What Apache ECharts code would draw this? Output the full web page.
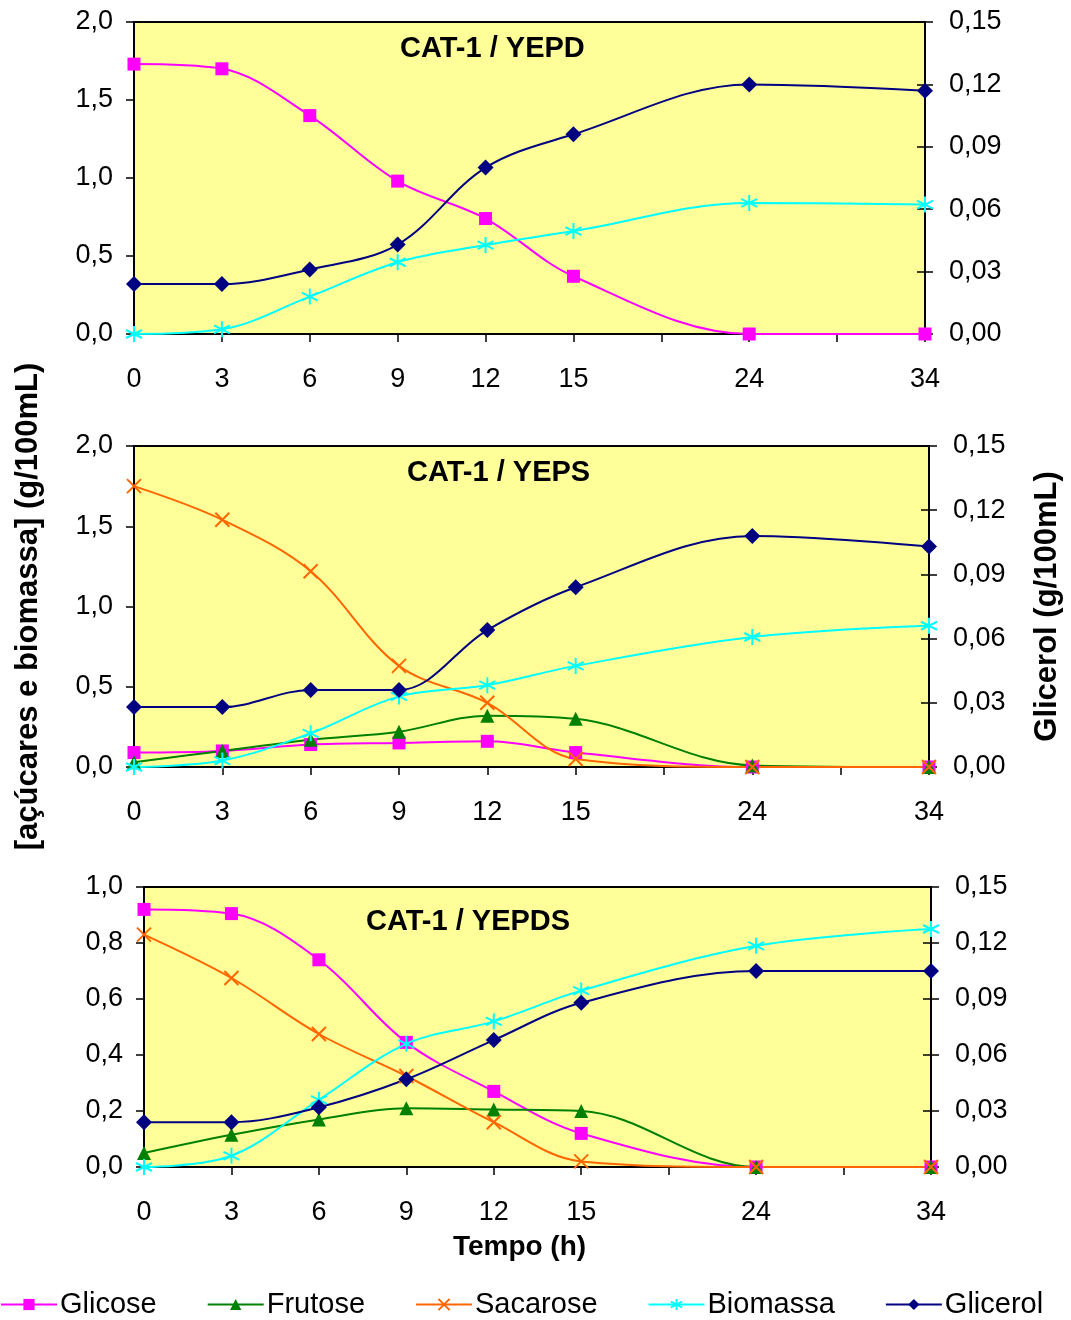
<!DOCTYPE html>
<html>
<head>
<meta charset="utf-8">
<script src="https://cdn.jsdelivr.net/npm/echarts@6/dist/echarts.min.js"></script>
<style>
  body { margin: 0; background: #fff; }
  #main { width: 1071px; height: 1320px; }
</style>
</head>
<body>
<div id="main"></div>
<script>
// categorias do eixo x (as vazias so levam tick)
const categories = ['0', '3', '6', '9', '12', '15', '', '24', '', '34'];

// CAT-1 / YEPD
const yepdGlicose = [1.73, 1.70, 1.40, 0.98, 0.74, 0.37, null, 0, null, 0];
const yepdBiomassa = [0, 0.03, 0.24, 0.46, 0.57, 0.66, null, 0.84, null, 0.83];
const yepdGlicerol = [0.024, 0.024, 0.031, 0.043, 0.080, 0.096, null, 0.120, null, 0.117];

// CAT-1 / YEPS
const yepsGlicose = [0.09, 0.10, 0.14, 0.15, 0.16, 0.09, null, 0, null, 0];
const yepsFrutose = [0.03, 0.10, 0.17, 0.22, 0.32, 0.30, null, 0.01, null, 0];
const yepsSacarose = [1.75, 1.54, 1.22, 0.63, 0.40, 0.05, null, 0, null, 0];
const yepsBiomassa = [0, 0.04, 0.21, 0.44, 0.51, 0.63, null, 0.81, null, 0.88];
const yepsGlicerol = [0.028, 0.028, 0.036, 0.036, 0.064, 0.084, null, 0.108, null, 0.103];

// CAT-1 / YEPDS
const yepdsGlicose = [0.92, 0.905, 0.74, 0.445, 0.27, 0.12, null, 0, null, 0];
const yepdsFrutose = [0.05, 0.115, 0.17, 0.21, 0.205, 0.20, null, 0, null, 0];
const yepdsSacarose = [0.83, 0.675, 0.475, 0.325, 0.16, 0.02, null, 0, null, 0];
const yepdsBiomassa = [0, 0.04, 0.24, 0.44, 0.52, 0.63, null, 0.79, null, 0.85];
const yepdsGlicerol = [0.024, 0.024, 0.032, 0.047, 0.068, 0.088, null, 0.105, null, 0.105];

const font = 'Liberation Sans, Arial, sans-serif';

// estilo de cada serie
var estilos = {
    'Glicose': { color: '#FF00FF', symbol: 'rect', size: 13 },
    'Frutose': { color: '#008000', symbol: 'triangle', size: 14 },
    'Sacarose': { color: '#FF6600', symbol: 'path://M0,0L10,10M10,0L0,10', size: 14, stroke: true },
    'Biomassa': { color: '#00FFFF', symbol: 'path://M5,0L5,10M0.7,2.5L9.3,7.5M9.3,2.5L0.7,7.5', size: 16, stroke: true },
    'Glicerol': { color: '#000080', symbol: 'diamond', size: 16 }
};

function serie(nome, dados, grid, eixoY) {
    var e = estilos[nome];
    return {
        name: nome,
        type: 'line',
        xAxisIndex: grid,
        yAxisIndex: eixoY,
        data: dados,
        smooth: 0.35,
        connectNulls: true,
        symbol: e.symbol,
        symbolSize: e.size,
        showAllSymbol: true,
        lineStyle: { color: e.color, width: 2 },
        itemStyle: e.stroke
            ? { color: e.color, borderColor: e.color, borderWidth: 2 }
            : { color: e.color },
        emphasis: { disabled: true }
    };
}

var grids = [
    { left: 134, top: 22, right: 146, height: 312 },
    { left: 134, top: 446, right: 141, height: 321 },
    { left: 144, top: 887, right: 140, height: 280 }
];

var xAxes = [];
var yAxes = [];
grids.forEach(function (g, i) {
    g.show = true;
    g.backgroundColor = '#FFFF99';
    g.borderColor = '#000';
    g.borderWidth = 2;
    xAxes.push({
        type: 'category',
        gridIndex: i,
        data: categories,
        boundaryGap: false,
        axisLine: { lineStyle: { color: '#000', width: 2 } },
        axisTick: { show: true, interval: 0, length: 8, lineStyle: { color: '#000', width: 1.5 } },
        axisLabel: { interval: 0, color: '#000', fontSize: 27, fontFamily: font, margin: 32 },
        name: i === 2 ? 'Tempo (h)' : '',
        nameLocation: 'middle',
        nameGap: 66,
        nameTextStyle: {
            fontSize: 28, fontWeight: 'bold', color: '#000', fontFamily: font,
            padding: [0, 36, 0, 0]
        }
    });
    var maxEsq = i === 2 ? 1.0 : 2.0;
    var intEsq = i === 2 ? 0.2 : 0.5;
    yAxes.push({
        type: 'value',
        gridIndex: i,
        position: 'left',
        min: 0, max: maxEsq, interval: intEsq,
        splitLine: { show: false },
        axisLine: { show: true, lineStyle: { color: '#000', width: 2 } },
        axisTick: { show: true, length: 8, lineStyle: { color: '#000', width: 1.5 } },
        axisLabel: {
            color: '#000', fontSize: 27, fontFamily: font, margin: 21,
            formatter: function (v) { return v.toFixed(1).replace('.', ','); }
        },
        name: i === 1 ? '[açúcares e biomassa] (g/100mL)' : '',
        nameLocation: 'middle',
        nameGap: 90,
        nameTextStyle: { fontSize: 31, fontWeight: 'bold', color: '#000', fontFamily: font }
    });
    yAxes.push({
        type: 'value',
        gridIndex: i,
        position: 'right',
        min: 0, max: 0.15, interval: 0.03,
        splitLine: { show: false },
        axisLine: { show: true, lineStyle: { color: '#000', width: 2 } },
        axisTick: { show: true, length: 8, lineStyle: { color: '#000', width: 1.5 } },
        axisLabel: {
            color: '#000', fontSize: 27, fontFamily: font, margin: 24,
            formatter: function (v) { return v.toFixed(2).replace('.', ','); }
        },
        name: i === 1 ? 'Glicerol (g/100mL)' : '',
        nameLocation: 'middle',
        nameGap: 103,
        nameRotate: 90,
        nameTextStyle: { fontSize: 31, fontWeight: 'bold', color: '#000', fontFamily: font }
    });
    // tick interno do eixo direito (cruzado)
    yAxes.push({
        type: 'value',
        gridIndex: i,
        position: 'right',
        min: 0, max: 0.15, interval: 0.03,
        splitLine: { show: false },
        axisLine: { show: false },
        axisTick: { show: true, inside: true, length: 8, lineStyle: { color: '#000', width: 1.5 } },
        axisLabel: { show: false }
    });
});

var series = [
    serie('Glicose', yepdGlicose, 0, 0),
    serie('Biomassa', yepdBiomassa, 0, 0),
    serie('Glicerol', yepdGlicerol, 0, 1),

    serie('Glicose', yepsGlicose, 1, 3),
    serie('Frutose', yepsFrutose, 1, 3),
    serie('Sacarose', yepsSacarose, 1, 3),
    serie('Biomassa', yepsBiomassa, 1, 3),
    serie('Glicerol', yepsGlicerol, 1, 4),

    serie('Glicose', yepdsGlicose, 2, 6),
    serie('Frutose', yepdsFrutose, 2, 6),
    serie('Sacarose', yepdsSacarose, 2, 6),
    serie('Biomassa', yepdsBiomassa, 2, 6),
    serie('Glicerol', yepdsGlicerol, 2, 7)
];

var tituloEstilo = { fontSize: 29, fontWeight: 'bold', color: '#000', fontFamily: font };

var chart = echarts.init(document.getElementById('main'));
chart.setOption({
    animation: false,
    backgroundColor: '#fff',
    title: [
        { text: 'CAT-1 / YEPD', left: 400, top: 34, padding: 0, textStyle: tituloEstilo },
        { text: 'CAT-1 / YEPS', left: 407, top: 458, padding: 0, textStyle: tituloEstilo },
        { text: 'CAT-1 / YEPDS', left: 366, top: 907, padding: 0, textStyle: tituloEstilo }
    ],
    grid: grids,
    xAxis: xAxes,
    yAxis: yAxes,
    legend: {
        data: ['Glicose', 'Frutose', 'Sacarose', 'Biomassa', 'Glicerol'],
        left: 0,
        top: 1290,
        padding: 0,
        itemWidth: 56,
        itemHeight: 14,
        itemGap: 50,
        textStyle: { fontSize: 29, color: '#000', fontFamily: font, padding: [0, 0, 0, -2] }
    },
    series: series
});
</script>
</body>
</html>
